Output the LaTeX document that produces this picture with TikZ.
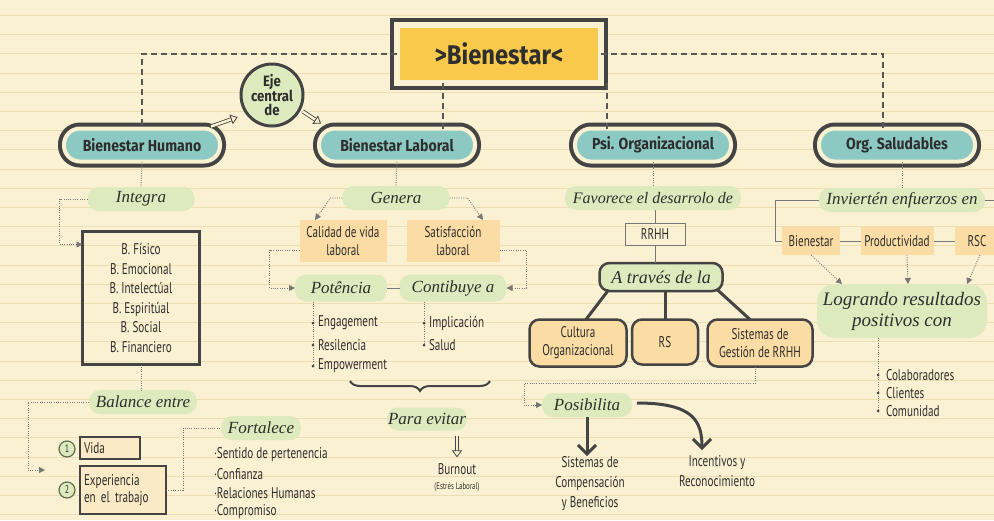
\documentclass[tikz,border=0pt]{standalone}
\usepackage{fontspec}
\setmainfont{PT Sans}
\newfontfamily\ttl[FakeStretch=0.88]{Fira Sans}
\newfontfamily\bdy[FakeStretch=0.72]{PT Sans}
\newfontfamily\crs{Liberation Serif}
\usetikzlibrary{arrows.meta,calc,decorations.pathreplacing}
\definecolor{cream}{HTML}{FAF0D2}
\definecolor{rule}{HTML}{ECDDB4}
\definecolor{teal}{HTML}{8BC9C2}
\definecolor{pgreen}{HTML}{DCEABD}
\definecolor{peach}{HTML}{FBDCA4}
\definecolor{lpeach}{HTML}{FCE9C6}
\definecolor{yell}{HTML}{F8C94B}
\definecolor{dark}{HTML}{444444}
\definecolor{ink}{HTML}{2E2E2E}
\definecolor{lgray}{HTML}{777777}
\definecolor{ngreen}{HTML}{5E6E4C}
\begin{document}
\begin{tikzpicture}[x=1pt,y=-1pt,
  every node/.style={inner sep=0pt,outer sep=0pt,text=ink},
  titlepill/.style={fill=teal,draw=cream,line width=4pt,rounded corners=16pt,
    preaction={draw=dark,line width=12pt},
    minimum width=156pt,minimum height=33pt,font=\fontsize{16}{18}\ttl\bfseries},
  gpill/.style={fill=pgreen,rounded corners=11pt,minimum height=24pt,
    font=\fontsize{17}{19}\crs\itshape},
  pbox/.style={fill=peach,align=center,font=\fontsize{15.5}{18}\bdy},
  rbox/.style={fill=peach,draw=dark,line width=2.5pt,rounded corners=10pt,
    align=center,font=\fontsize{15.5}{18}\bdy},
  btxt/.style={font=\fontsize{15.5}{20}\bdy,align=center},
  ltxt/.style={font=\fontsize{15.5}{19}\bdy,anchor=west},
  numc/.style={circle,fill=pgreen,draw=ngreen,line width=1.2pt,minimum size=16pt,
    font=\fontsize{11}{11}\bdy},
  dashedc/.style={draw=dark!90,line width=1.3pt,dash pattern=on 6pt off 4pt},
  dotc/.style={draw=lgray,line width=0.9pt,dash pattern=on 1pt off 1.3pt},
  dotarr/.style={dotc,-{Triangle[length=6pt,width=6pt]}},
  thinl/.style={draw=lgray,line width=0.9pt},
  thickl/.style={draw=dark,line width=3pt},
  thickarr/.style={thickl,-{Straight Barb[length=9pt,width=18pt]}},
  hollow/.style={draw=dark,line width=0.8pt,double=cream,double distance=2.5pt,
    -{Triangle[open,length=7pt,width=10pt]}},
  bul/.style={circle,fill=dark,minimum size=3pt}
]
% background
\fill[cream] (0,0) rectangle (994,520);
\useasboundingbox (0,0) rectangle (994,520);
\foreach \k in {0,...,26} \draw[rule,line width=0.7pt] (0,15.4+19.2*\k) -- (994,15.4+19.2*\k);

% title
\node[fill=yell,draw=cream,line width=6pt,minimum width=204pt,minimum height=58pt,
  preaction={draw=dark,line width=14pt},font=\fontsize{27}{29}\ttl\bfseries] (bien) at (499,54) {>Bienestar<};

% main titles
\node[titlepill] (bh) at (142,145) {Bienestar Humano};
\node[titlepill] (bl) at (397,145) {Bienestar Laboral};
\node[titlepill] (po) at (653,145) {Psi. Organizacional};
\node[titlepill] (os) at (897,145) {Org. Saludables};

\node[circle,fill=pgreen,draw=dark,line width=3pt,minimum size=62pt,align=center,
  font=\fontsize{15}{14}\ttl\bfseries] (eje) at (272,95) {Eje\\central\\de};

\coordinate (xl) at (443,0);
\coordinate (xp) at (607,0);
\coordinate (xo) at (883,0);
\draw[dashedc] (bien.west) -| (bh.north);
\draw[dashedc] (bien.south -| xl) -- (bl.north -| xl);
\draw[dashedc] (bien.south -| xp) -- (po.north -| xp);
\draw[dashedc] (bien.east) -| (os.north -| xo);

\draw[hollow] ($(bh.north east)+(-9,-2)$) -- ($(eje.center)!0.66!(bh.north east)$);
\draw[hollow] ($(eje.center)!1.12!(eje.-28)$) -- ($(bl.north west)+(2,-5)$);

% ---------- Bienestar Humano column
\node[gpill,minimum width=107pt] (integ) at (141,199) {Integra};
\node[draw=dark,line width=2.5pt,minimum width=117pt,minimum height=133pt,
  align=center,font=\fontsize{15.5}{19.5}\bdy] (bfbox) at (141,298)
  {B. Físico\\B. Emocional\\B. Intelectúal\\B. Espiritúal\\B. Social\\B. Financiero};
\node[gpill,minimum width=108pt] (bal) at (143,402) {Balance entre};
\node[numc] (n1) at (67,449) {1};
\node[fill=lpeach,draw=dark,line width=1.5pt,minimum width=60pt,minimum height=22pt,
  font=\fontsize{15.5}{16}\bdy,anchor=west,text width=52pt,align=left,inner xsep=4pt] (vida) at (80,448) {Vida};
\node[numc] (n2) at (67,490) {2};
\node[fill=lpeach,draw=dark,line width=1.5pt,minimum width=86pt,minimum height=48pt,
  font=\fontsize{15.5}{17}\bdy,anchor=west,text width=78pt,align=left,inner xsep=4pt] (exp) at (80,490) {Experiencia\\en el trabajo};
\node[gpill,minimum width=80pt] (fort) at (261,428) {Fortalece};
\node[ltxt] (f1) at (214,455) {·Sentido de pertenencia};
\node[ltxt] (f2) at (214,474) {·Confianza};
\node[ltxt] (f3) at (214,493) {·Relaciones Humanas};
\node[ltxt] (f4) at (214,512) {·Compromiso};

\draw[dotc] (bh.south) -- (integ.north);
\draw[dotarr] (integ.west) -- ++(-28,0) |- ($(bfbox.north west)+(0,13)$);
\draw[dotc] (bfbox.south) -- (bfbox.south |- bal.north);
\coordinate (balend) at (45,470);
\draw[dotarr] (bal.west) -- ++(-61,0) |- (balend);
\draw[dotc] (exp.east) -- ++(17,0) |- (fort.west);

% ---------- Bienestar Laboral column
\node[gpill,minimum width=107pt] (gen) at (396,198) {Genera};
\node[pbox,minimum width=87pt,minimum height=42pt] (cal) at (343,241) {Calidad de vida\\laboral};
\node[pbox,minimum width=93pt,minimum height=42pt] (sat) at (453,241) {Satisfacción\\laboral};
\node[gpill,minimum width=92pt,minimum height=27pt] (pot) at (341,288) {Potência};
\node[gpill,minimum width=107pt,minimum height=27pt] (con) at (453,288) {Contibuye a};

\draw[dotc] (bl.south) -- (gen.north);
\draw[dotarr] (gen.west) -- ++(-12,0) -- ($(cal.north)+(-28,0)$);
\draw[dotarr] (gen.east) -- ++(18,0) -- ($(sat.north)+(30,0)$);
\draw[dotarr] ($(cal.south west)+(0,-12)$) -- ++(-30,0) |- (pot.west);
\draw[dotarr] ($(sat.south east)+(0,-12)$) -- ++(27,0) |- (con.east);
\draw[thinl] (pot.east) -- (con.west);

\coordinate (xa) at (313,0);
\coordinate (xb) at (424,0);
\node[ltxt] (e1) at (318,323) {Engagement};
\node[ltxt] (e2) at (318,345) {Resilencia};
\node[ltxt] (e3) at (318,366) {Empowerment};
\node[ltxt] (i1) at (429,323) {Implicación};
\node[ltxt] (i2) at (429,345) {Salud};
\draw[dotc] (pot.south -| xa) -- (e3.west -| xa);
\draw[dotc] (con.south -| xb) -- (i2.west -| xb);
\foreach \n in {e1,e2,e3} \node[bul] at (\n.west -| xa) {};
\foreach \n in {i1,i2} \node[bul] at (\n.west -| xb) {};

\coordinate (brL) at (350,381);
\coordinate (brR) at (490,381);
\draw[draw=dark,line width=2pt,decorate,decoration={brace,mirror,amplitude=10pt}] (brL) -- (brR);
\node[gpill,minimum width=80pt,minimum height=23pt] (pe) at (427,419) {Para evitar};
\node[font=\fontsize{15.5}{16}\bdy] (burn) at (457,469) {Burnout};
\node[font=\fontsize{9.5}{10}\bdy] (est) at (457,487) {(Estrés Laboral)};
\draw[hollow] (burn.north |- pe.south) ++(0,5) -- ($(burn.north)+(0,-6)$);

% ---------- Psi. Organizacional column
\node[gpill,minimum width=176pt,font=\fontsize{16}{18}\crs\itshape] (fav) at (653,198) {Favorece el desarrolo de};
\node[draw=lgray,line width=1pt,minimum width=60pt,minimum height=22pt,font=\fontsize{15.5}{16}\bdy] (rrhh) at (655,234) {RRHH};
\node[fill=pgreen,draw=dark,line width=2.5pt,rounded corners=10pt,minimum width=123pt,
  minimum height=28pt,font=\fontsize{18}{20}\crs\itshape] (atr) at (661,277) {A través de la};
\node[rbox,minimum width=97pt,minimum height=47pt] (cult) at (578,343) {Cultura\\Organizacional};
\node[rbox,minimum width=66pt,minimum height=45pt] (rs) at (665,342) {RS};
\node[rbox,minimum width=105pt,minimum height=47pt] (sgr) at (760,343) {Sistemas de\\Gestión de RRHH};
\node[gpill,minimum width=90pt] (posi) at (587,405) {Posibilita};
\node[btxt,anchor=north] (scb) at (590,456) {Sistemas de\\Compensación\\y Beneficios};
\node[btxt,anchor=north] (inc) at (717,456) {Incentivos y\\Reconocimiento};

\draw[dotc] (po.south) -- (po.south |- fav.north);
\draw[thinl] (rrhh.north |- fav.south) -- (rrhh.north);
\draw[thinl] (rrhh.south) -- (rrhh.south |- atr.north);
\draw[thickl] ($(atr.south west)+(9,-1)$) -- ($(cult.north)+(8,0)$);
\draw[thickl] (rs.north |- atr.south) -- (rs.north);
\draw[thickl] ($(atr.south east)+(-6,-2)$) -- ($(sgr.north)+(-10,0)$);
\draw[dotarr] ($(sgr.south)+(-5,0)$) -- ++(0,17) -| ($(posi.west)+(-18,0)$) -- (posi.west);
\draw[thickarr] (posi.south) -- (posi.south |- scb.north);
\draw[thickarr] ($(posi.east)+(5,-2)$) .. controls +(55,0) and +(0,-30) .. ($(inc.north)+(-15,-6)$);

% ---------- Org. Saludables column
\node[gpill,minimum width=166pt] (inv) at (902,200) {Inviertén enfuerzos en};
\node[pbox,minimum width=58pt,minimum height=28pt] (bie2) at (811,241) {Bienestar};
\node[pbox,minimum width=73pt,minimum height=28pt] (prod) at (897,241) {Productividad};
\node[pbox,minimum width=44pt,minimum height=28pt] (rsc) at (977,241) {RSC};
\node[gpill,minimum width=170pt,minimum height=54pt,rounded corners=18pt,align=center,
  font=\fontsize{19}{21}\crs\itshape] (log) at (902,311) {Logrando resultados\\positivos con};

\draw[dotc] (os.south -| xo) ++(19,0) -- ($(inv.north)+(0,0)$);
\coordinate (invend) at (994,200);
\draw[thinl] (inv.east) -- (invend);
\draw[thinl] (inv.west) -- ++(-44,0) |- (bie2.west);
\draw[thinl] (bie2.east) -- (prod.west);
\draw[thinl] (prod.east) -- (rsc.west);
\draw[dotarr] (bie2.south) -- ($(log.north west)+(25,0)$);
\draw[dotarr] ($(prod.south)+(10,0)$) -- ($(log.north)+(6,0)$);
\draw[dotarr] ($(rsc.south)+(3,0)$) -- ($(log.north east)+(-20,0)$);

\coordinate (xc) at (878,0);
\node[ltxt] (c1) at (886,375) {Colaboradores};
\node[ltxt] (c2) at (886,393) {Clientes};
\node[ltxt] (c3) at (886,411) {Comunidad};
\draw[dotc] (log.south -| xc) -- (c3.west -| xc);
\foreach \n in {c1,c2,c3} \node[bul] at (\n.west -| xc) {};
\end{tikzpicture}
\end{document}
